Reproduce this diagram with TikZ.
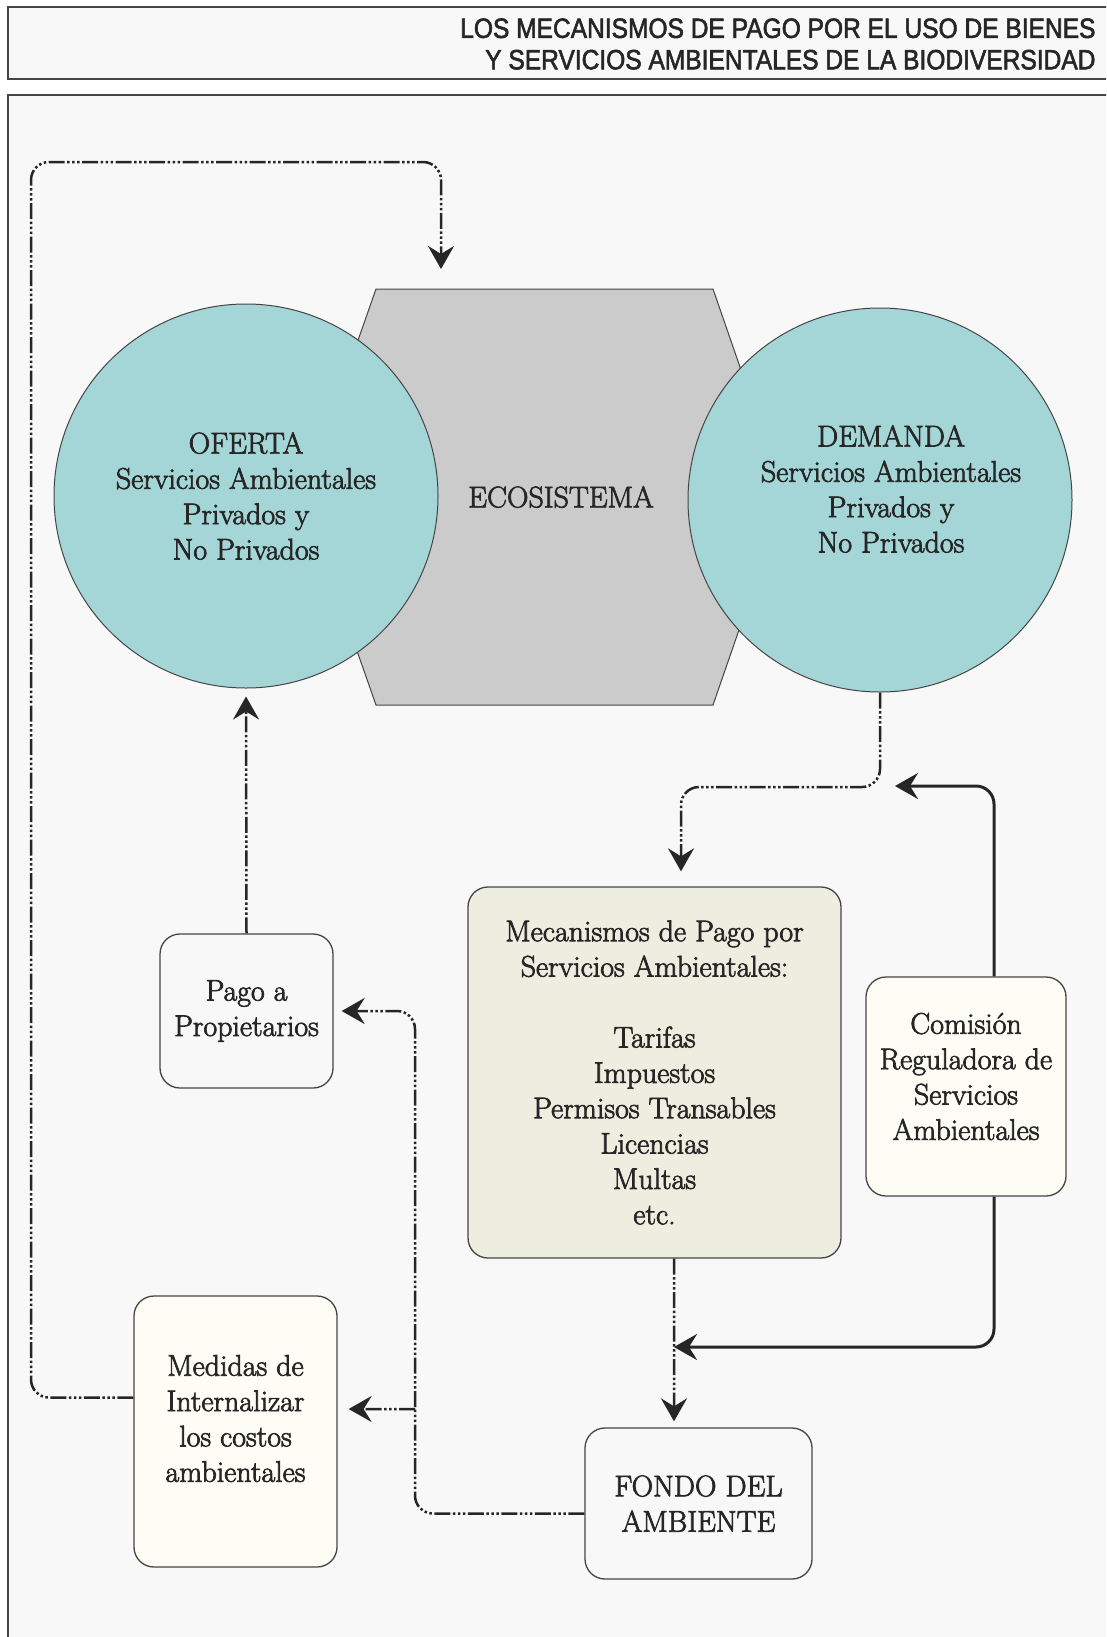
\documentclass[tikz,border=0pt]{standalone}
\usepackage{fontspec}
\setmainfont{Latin Modern Roman}[FakeBold=2.4]
\newfontfamily\titlefont[FakeStretch=0.88, FakeBold=2]{Liberation Sans}
\usepackage{tikz}
\usetikzlibrary{arrows.meta}
\usetikzlibrary{calc}

\definecolor{paper}{HTML}{F8F8F8}
\definecolor{ink}{HTML}{262626}
\definecolor{edge}{HTML}{454545}
\definecolor{seafoam}{HTML}{A5D6D7}
\definecolor{rock}{HTML}{CBCBCB}
\definecolor{sand}{HTML}{EEEEE0}
\definecolor{ivory}{HTML}{FDFDF6}

\tikzset{l/.style={font=\fontsize{30}{35.5}\selectfont, text=ink}}
\tikzset{t/.style={font=\titlefont\fontsize{28}{31.5}\selectfont, text=ink}}
\tikzset{
txt/.style={l, align=center},
box/.style={draw=edge, line width=1.3bp, rounded corners=20bp, align=center, inner sep=0pt, l},
blob/.style={circle, draw=edge, line width=1bp, fill=seafoam, minimum size=384bp, align=center, inner sep=0pt, l},
tip/.style={-{Stealth[length=23bp, width=26bp, inset=8bp]}},
flow/.style={draw=ink, line width=2.5bp, tip, rounded corners=18bp,
  dash pattern=on 16bp off 2.5bp on 2.5bp off 2.5bp on 2.5bp off 2.5bp on 2.5bp off 2.5bp},
ctrl/.style={draw=ink, line width=3bp, tip, rounded corners=18bp}
}

\begin{document}
\begin{tikzpicture}[x=1bp, y=-1bp]
    \useasboundingbox (0,0) rectangle (1106,1637);
    \fill[white] (0,0) rectangle (1106,1637);
    \clip (0,0) rectangle (1106,1637);

    % header and frame
    \draw[fill=paper, draw=edge, line width=1.5bp] (8,7) rectangle (1130,79);
    \draw[fill=paper, draw=edge, line width=1.5bp] (8,95) rectangle (1130,1660);
    \node[t, anchor=east, align=right] (title) at (1099,44)
        {LOS MECANISMOS DE PAGO POR EL USO DE BIENES\\Y SERVICIOS AMBIENTALES DE LA BIODIVERSIDAD};

    % ecosystem hexagon behind the two circles
    \coordinate (h1) at (376,289);
    \coordinate (h2) at (713,289);
    \coordinate (h3) at (785,497);
    \coordinate (h4) at (713,705);
    \coordinate (h5) at (376,705);
    \coordinate (h6) at (303,497);
    \draw[fill=rock, draw=edge, line width=1bp] (h1) -- (h2) -- (h3) -- (h4) -- (h5) -- (h6) -- cycle;
    \node[l] (eco) at (561,497) {ECOSISTEMA};

    \node[blob] (oferta) at (246,496) {OFERTA\\Servicios Ambientales\\Privados y\\No Privados};
    \node[blob, label={[txt, xshift=11bp, yshift=11bp]center:{DEMANDA\\Servicios Ambientales\\Privados y\\No Privados}}]
        (demanda) at (880,500) {};

    % boxes
    \node[box, fill=paper, minimum width=173bp, minimum height=154bp] (pago) at (246.5,1011) {Pago a\\Propietarios};
    \node[box, fill=sand, minimum width=373bp, minimum height=371bp] (mecanismos) at (654.5,1072.5)
        {Mecanismos de Pago por\\Servicios Ambientales:\\[35.5bp]Tarifas\\Impuestos\\Permisos Transables\\Licencias\\Multas\\etc.};
    \node[box, fill=ivory, minimum width=200bp, minimum height=219bp,
        label={[txt, yshift=10bp]center:{Comisión\\Reguladora de\\Servicios\\Ambientales}}] (comision) at (966,1086.5) {};
    \node[box, fill=paper, minimum width=227bp, minimum height=151bp] (fondo) at (698.5,1503.5) {FONDO DEL\\AMBIENTE};
    \node[box, fill=ivory, minimum width=203bp, minimum height=271bp,
        label={[txt, yshift=13bp]center:{Medidas de\\Internalizar\\los costos\\ambientales}}] (medidas) at (235.5,1431.5) {};

    % free ends and junctions
    \coordinate (ecotop) at (441,269);
    \coordinate (meet) at (895,786);
    \coordinate (join) at (674,1347);
    \coordinate (split) at (415,1409);

    % connectors
    \draw[flow] ([yshift=34bp]medidas.west) -| (31,162) -| (ecotop);
    \draw[flow, shorten >=8bp] (pago.north) -- (oferta.south);
    \draw[flow, shorten >=15bp] (demanda.south) |- (681,787) -- ([xshift=26.5bp]mecanismos.north);
    \draw[ctrl] ([xshift=28bp]comision.north) |- (meet);
    \draw[ctrl] ([xshift=28bp]comision.south) |- (join);
    \draw[flow, shorten >=6bp] ([xshift=19.5bp]mecanismos.south) -- ([xshift=-24.5bp]fondo.north);
    \draw[flow, shorten >=8bp] ([yshift=-10bp]fondo.west) -| (415,1011) -- (pago.east);
    \draw[flow, shorten >=11bp] (split) -- ([yshift=22.5bp]medidas.east);
\end{tikzpicture}
\end{document}
